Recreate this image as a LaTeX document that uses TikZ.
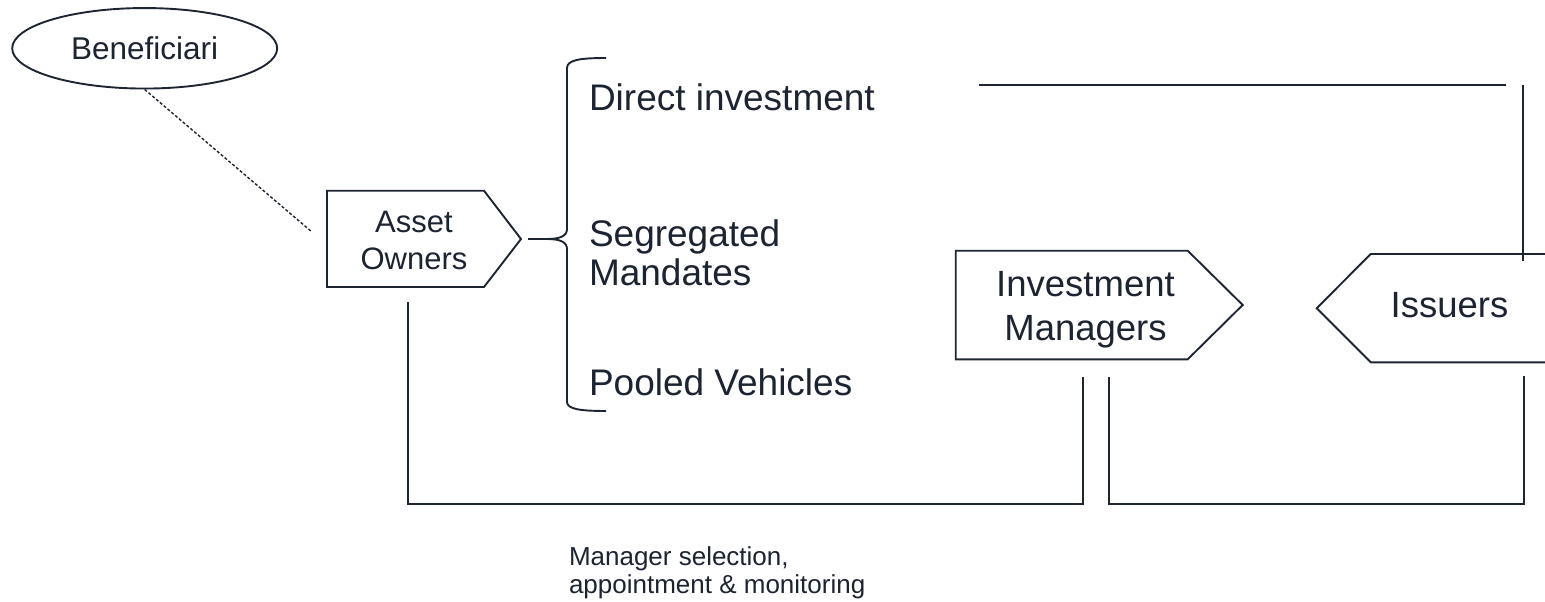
\documentclass[tikz,border=0pt]{standalone}
\usepackage{fontspec}
\setmainfont{Liberation Sans}
\usetikzlibrary{shapes.geometric}
\definecolor{textc}{HTML}{1C2331}
\definecolor{linec}{HTML}{1E2532}
\newcommand\ctwo[2]{\vtop{\halign{\hfil##\hfil\cr#1\cr#2\cr}}}
\newcommand\ltwo[2]{\vtop{\hbox{#1}\hbox{#2}}}
\tikzset{
  outline/.style={draw=linec, line width=1.9pt, line join=miter},
  conn/.style={draw=linec, line width=1.9pt},
  dashline/.style={draw=linec, line width=1.4pt, dash pattern=on 3pt off 2pt},
  lbl/.style={text=textc, inner sep=0pt, outer sep=0pt},
  bigfont/.style={font=\fontsize{37}{39}\selectfont},
}
\begin{document}
\begin{tikzpicture}[x=1pt,y=-1pt]
\useasboundingbox (0,0) rectangle (1545,602);

% Beneficiari
\node[ellipse, outline, minimum width=265pt, minimum height=80.5pt, inner sep=0pt,
      text=textc, font=\fontsize{31.5}{36}\selectfont] (ben) at (144.7,48.3)
      {\raisebox{-2.6pt}{Beneficiari}};
\coordinate (benEnd) at (312,232);
\draw[dashline] (ben.south) -- (benEnd);

% Asset Owners shape
\coordinate (aoTip) at (521,239);
\draw[outline] (327,190.7) -- (484,190.7) -- (aoTip) -- (484,287) -- (327,287) -- cycle;
\node[lbl, anchor=base, font=\fontsize{31}{37}\selectfont] (ao) at (414,232) {\ctwo{Asset}{Owners}};

% brace
\coordinate (aoOut) at (528,239);
\coordinate (brTip) at (547,239);
\draw[conn] (aoOut) -- (brTip);
\draw[conn] (606,58) .. controls (580,58) and (567,60) .. (567,68) -- (567,229)
  .. controls (567,236) and (560,239) .. (brTip)
  .. controls (560,239) and (567,242) .. (567,249) -- (567,402)
  .. controls (567,409) and (580,411) .. (606,411);

\node[lbl, anchor=base west, bigfont] (di) at (589,110.7) {Direct investment};
\node[lbl, anchor=base west, bigfont] (sm) at (589,246) {\ltwo{Segregated}{Mandates}};
\node[lbl, anchor=base west, bigfont] (pv) at (589,395) {Pooled Vehicles};

% Investment Managers shape
\draw[outline] (955.7,250.7) -- (1187.7,250.7) -- (1242.7,305) -- (1187.7,359.3) -- (955.7,359.3) -- cycle;
\node[lbl, anchor=base, font=\fontsize{36.5}{43.3}\selectfont] (im) at (1085.5,296.7) {\ctwo{Investment}{Managers}};

% Issuers shape
\draw[outline] (1560,254) -- (1370.7,254) -- (1316.7,308.3) -- (1370.7,362.3) -- (1560,362.3);
\node[lbl, anchor=base, font=\fontsize{36.5}{44}\selectfont] (iss) at (1449.5,317.3) {Issuers};

% top connector
\coordinate (topL) at (978.6,85);
\coordinate (topR) at (1506,85);
\draw[conn] (topL) -- (topR);
\coordinate (issUpTop) at (1523,85);
\coordinate (issUp) at (1523,260.7);
\draw[conn] (issUpTop) -- (issUp);

% bottom connectors
\coordinate (bot) at (0,504);
\coordinate (aoDown) at (408,301.7);
\coordinate (imL) at (1083,377);
\coordinate (imR) at (1108.6,377);
\coordinate (issDown) at (1524,376);
\draw[conn] (aoDown) -- (aoDown |- bot) -- (imL |- bot) -- (imL);
\draw[conn] (imR) -- (imR |- bot) -- (issDown |- bot) -- (issDown);

\node[lbl, anchor=base west, font=\fontsize{26}{28}\selectfont] (msel) at (569,565)
  {\ltwo{Manager selection,}{appointment \& monitoring}};
\end{tikzpicture}
\end{document}
